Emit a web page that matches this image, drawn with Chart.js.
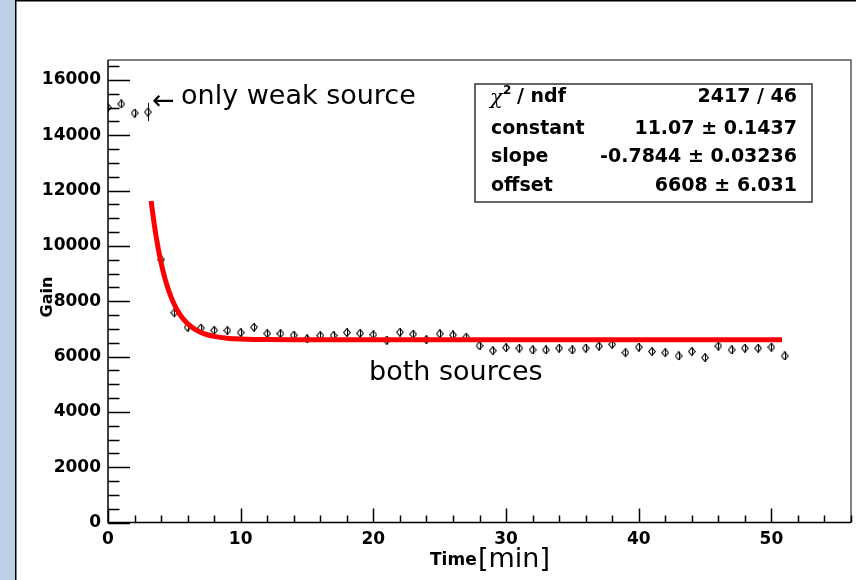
<!DOCTYPE html>
<html>
<head>
<meta charset="utf-8">
<script src="https://cdn.jsdelivr.net/npm/chart.js@4/dist/chart.umd.min.js"></script>
<style>
html,body{margin:0;padding:0;background:#fff;}
#c{display:block;}
</style>
</head>
<body>
<canvas id="c" width="856" height="580"></canvas>
<script>
// ---- data ----
const weakX = [0, 1, 2, 3];
const weakY = [15000, 15130, 14800, 14840];
const weakErr = [100, 150, 150, 330];

const bothX = [4,5,6,7,8,9,10,11,12,13,14,15,16,17,18,19,20,21,22,23,24,25,26,27,
               28,29,30,31,32,33,34,35,36,37,38,39,40,41,42,43,44,45,46,47,48,49,50,51];
const bothY = [9500,7580,7060,7030,6950,6940,6865,7060,6830,6830,6770,6640,6760,6760,6870,6840,6790,6590,6880,6810,6610,6820,6780,6700,
               6390,6210,6320,6300,6240,6240,6300,6240,6300,6380,6440,6140,6340,6180,6140,6020,6180,5960,6380,6240,6300,6300,6340,6020];
const bothErr = [200,160,150,150,150,150,150,150,150,150,150,150,150,150,150,150,150,150,150,150,150,150,150,150,
                 150,150,150,150,150,150,150,150,150,150,150,150,150,150,150,150,150,150,150,150,150,150,150,150];

// fit curve samples (expo + offset)
const fitX = [3.25,3.5,3.75,4,4.25,4.5,4.75,5,5.25,5.5,5.75,6,6.5,7,7.5,8,9,10,11,12,14,20,30,40,50.8];
const fitY = [11624,10732,9998,9394,8898,8491,8156,7880,7653,7467,7314,7189,7000,6873,6787,6729,6663,6633,6619,6613,6609,6608,6608,6608,6608];

const yTickValues = [0,2000,4000,6000,8000,10000,12000,14000,16000];
const xTickValues = [0,10,20,30,40,50];

const statsRows = [
  ["chi2", "2417 / 46"],
  ["constant", "11.07 \u00b1 0.1437"],
  ["slope", "-0.7844 \u00b1 0.03236"],
  ["offset", "6608 \u00b1 6.031"]
];
const xTitle = "Time";
const xUnit = "[min]";
const yTitle = "Gain";
const noteWeak = "only weak source";
const noteBoth = "both sources";

const xMax = 56, yMax = 16720;

// ---- marker: open diamond ----
const mk = document.createElement('canvas');
mk.width = 8; mk.height = 9;
(function(){
  const g = mk.getContext('2d');
  g.strokeStyle = '#000'; g.lineWidth = 1.1;
  g.beginPath();
  g.moveTo(4,0.6); g.lineTo(7.3,4.5); g.lineTo(4,8.4); g.lineTo(0.7,4.5); g.closePath();
  g.stroke();
})();

const pts = (xs, ys) => xs.map((x,i)=>({x:x, y:ys[i]}));

const FONT = '"DejaVu Sans", "Verdana", sans-serif';

const rootPlugin = {
  id: 'rootStyle',
  beforeDraw(chart){
    const ctx = chart.ctx;
    ctx.save();
    ctx.fillStyle = '#fff';
    ctx.fillRect(0,0,chart.width,chart.height);
    ctx.fillStyle = '#bccfe6';
    ctx.fillRect(0,0,15,chart.height);
    ctx.fillStyle = '#000';
    ctx.fillRect(15,0,1.5,chart.height);
    ctx.fillRect(15,0,chart.width-15,1.5);
    ctx.restore();
  },
  beforeDatasetsDraw(chart){
    // error bars
    const ctx = chart.ctx, xs = chart.scales.x, ys = chart.scales.y;
    ctx.save();
    ctx.strokeStyle = '#000'; ctx.lineWidth = 1;
    const draw = (X, Y, E) => {
      X.forEach((x,i)=>{
        const px = Math.round(xs.getPixelForValue(x)) + 0.5;
        ctx.beginPath();
        ctx.moveTo(px, ys.getPixelForValue(Y[i]-E[i]));
        ctx.lineTo(px, ys.getPixelForValue(Y[i]+E[i]));
        ctx.stroke();
      });
    };
    draw(weakX, weakY, weakErr);
    draw(bothX, bothY, bothErr);
    ctx.restore();
  },
  afterDraw(chart){
    const ctx = chart.ctx, a = chart.chartArea, xs = chart.scales.x, ys = chart.scales.y;
    ctx.save();
    // frame
    ctx.strokeStyle = '#555'; ctx.lineWidth = 1.5;
    ctx.beginPath();
    ctx.moveTo(a.left, a.top); ctx.lineTo(a.right, a.top); ctx.lineTo(a.right, a.bottom);
    ctx.stroke();
    ctx.strokeStyle = '#000';
    ctx.beginPath();
    ctx.moveTo(a.left, a.top); ctx.lineTo(a.left, a.bottom); ctx.lineTo(a.right, a.bottom);
    ctx.stroke();
    // ticks (inside)
    ctx.lineWidth = 1.5;
    ctx.beginPath();
    for (let v = 0; v <= yMax; v += 500) {
      const py = Math.round(ys.getPixelForValue(v)) + 0.5;
      const len = (v % 2000 === 0) ? 22 : 11.5;
      ctx.moveTo(a.left, py); ctx.lineTo(a.left + len, py);
    }
    for (let v = 0; v <= xMax; v += 2) {
      const px = Math.round(xs.getPixelForValue(v)) + 0.5;
      const len = (v % 10 === 0) ? 14 : 7;
      ctx.moveTo(px, a.bottom); ctx.lineTo(px, a.bottom - len);
    }
    ctx.stroke();

    // stats box
    const bx = 475, by = 84, bw = 337, bh = 118;
    ctx.fillStyle = '#fff';
    ctx.fillRect(bx, by, bw, bh);
    ctx.strokeStyle = '#333'; ctx.lineWidth = 1.5;
    ctx.strokeRect(bx, by, bw, bh);
    ctx.fillStyle = '#000';
    ctx.textBaseline = 'middle';
    const rowY = [97, 129, 157, 186];
    statsRows.forEach((r,i)=>{
      ctx.font = 'bold 19px ' + FONT;
      if (r[0] === 'chi2') {
        ctx.textAlign = 'left';
        ctx.font = 'italic 21px "DejaVu Serif", serif';
        ctx.fillText('\u03c7', 490, rowY[i] + 2);
        ctx.font = 'bold 12px ' + FONT;
        ctx.fillText('2', 503, rowY[i] - 6);
        ctx.font = 'bold 19px ' + FONT;
        ctx.fillText('/ ndf', 517, rowY[i]);
      } else {
        ctx.textAlign = 'left';
        ctx.fillText(r[0], 491, rowY[i]);
      }
      ctx.textAlign = 'right';
      ctx.font = 'bold 19px ' + FONT;
      ctx.fillText(r[1], 797, rowY[i]);
    });

    // annotations
    ctx.textAlign = 'left';
    ctx.font = '27px ' + FONT;
    ctx.fillText('\u2190', 152, 102);
    ctx.fillText(noteWeak, 181, 97);
    ctx.fillText(noteBoth, 369, 373);

    // axis titles
    ctx.font = 'bold 17px ' + FONT;
    ctx.fillText(xTitle, 430, 561);
    ctx.font = '27px ' + FONT;
    ctx.fillText(xUnit, 478, 560);
    ctx.save();
    ctx.translate(48, 297);
    ctx.rotate(-Math.PI/2);
    ctx.textAlign = 'center';
    ctx.font = 'bold 16px ' + FONT;
    ctx.fillText(yTitle, 0, 0);
    ctx.restore();
    ctx.restore();
  }
};

new Chart(document.getElementById('c'), {
  type: 'scatter',
  data: {
    datasets: [
      { label: 'fit', data: pts(fitX, fitY), showLine: true, borderColor: '#ff0000', borderWidth: 5,
        pointRadius: 0, cubicInterpolationMode: 'monotone', order: 0, fill: false },
      { label: 'weak', data: pts(weakX, weakY), pointStyle: mk, pointRadius: 4, order: 1 },
      { label: 'both', data: pts(bothX, bothY), pointStyle: mk, pointRadius: 4, order: 2 }
    ]
  },
  options: {
    responsive: false,
    animation: false,
    devicePixelRatio: 1,
    layout: { padding: { top: 60, right: 5, left: 0, bottom: 0 } },
    plugins: { legend: { display: false }, tooltip: { enabled: false } },
    scales: {
      x: {
        type: 'linear', min: 0, max: xMax,
        grid: { display: false, drawTicks: false, tickLength: 0 }, border: { display: false },
        ticks: { color: '#000', padding: 7, maxRotation: 0, autoSkip: false,
                 font: { family: FONT, size: 17, weight: 'bold' },
                 callback: v => String(v) },
        afterBuildTicks: s => { s.ticks = xTickValues.map(v => ({ value: v })); },
        afterFit: s => { s.height = 57.5; }
      },
      y: {
        type: 'linear', min: 0, max: yMax,
        grid: { display: false, drawTicks: false, tickLength: 0 }, border: { display: false },
        ticks: { color: '#000', padding: 7, autoSkip: false,
                 font: { family: FONT, size: 17, weight: 'bold' },
                 callback: v => String(v) },
        afterBuildTicks: s => { s.ticks = yTickValues.map(v => ({ value: v })); },
        afterFit: s => { s.width = 108; }
      }
    }
  },
  plugins: [rootPlugin]
});
</script>
</body>
</html>
